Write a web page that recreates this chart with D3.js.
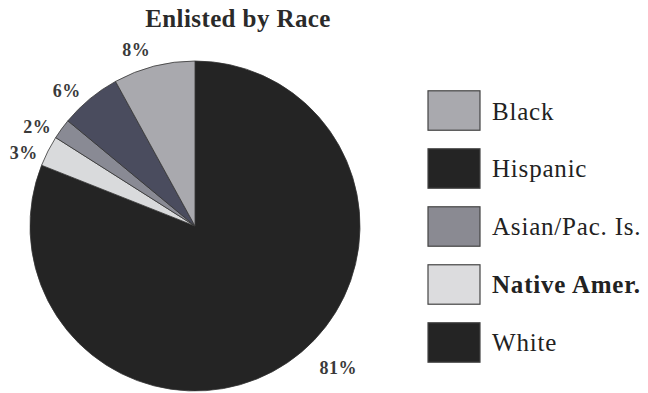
<!DOCTYPE html>
<html>
<head>
<meta charset="utf-8">
<script src="https://cdn.jsdelivr.net/npm/d3@7"></script>
<style>
  body { margin: 0; background: #ffffff; }
</style>
</head>
<body>
<svg id="chart" width="648" height="393"></svg>
<script>
// legend order
var races = ['Black', 'Hispanic', 'Asian/Pac. Is.', 'Native Amer.', 'White'];
var shares = [8, 6, 2, 3, 81];
var sliceColors = ['#a9a9ae', '#4a4c5e', '#898a94', '#d9dadc', '#242424'];
var swatchColors = ['#a9a9ae', '#242424', '#8a8a92', '#dcdcde', '#242424'];

var svg = d3.select('#chart');
var centerX = 195;
var centerY = 226;
var radius = 165;
var labelR = 186;
var labelShift = -4 * Math.PI / 180;

svg.append('text')
  .attr('x', 238)
  .attr('y', 27)
  .style('text-anchor', 'middle')
  .style('font-family', 'Liberation Serif, serif')
  .style('font-size', '25px')
  .style('letter-spacing', '0.4px')
  .style('font-weight', 'bold')
  .style('fill', '#2a2a2a')
  .text('Enlisted by Race');

var rows = races.map(function(r, i) {
  return { race: r, value: shares[i], color: sliceColors[i], swatch: swatchColors[i] };
});

// draw clockwise from 12 o'clock: White first, Black last
var pie = d3.pie()
  .sort(null)
  .value(function(d) { return d.value; });

var arcs = pie(rows.slice().reverse());

var arc = d3.arc().innerRadius(0).outerRadius(radius);

var g = svg.append('g')
  .attr('transform', 'translate(' + centerX + ',' + centerY + ')');

g.selectAll('.slice')
  .data(arcs)
  .enter()
  .append('path')
  .attr('class', 'slice')
  .attr('d', arc)
  .style('fill', function(d) { return d.data.color; })
  .style('stroke', '#333333')
  .style('stroke-width', 0.8);

g.selectAll('.slice-label')
  .data(arcs)
  .enter()
  .append('text')
  .attr('class', 'slice-label')
  .attr('transform', function(d) {
    var a = (d.startAngle + d.endAngle) / 2 + labelShift;
    var r = labelR;
    // the big slice's label sits further out, nearer the bottom
    if (d.data.value > 50) {
      a -= 7 * Math.PI / 180;
      r += 16;
    }
    var x = Math.sin(a) * r;
    var y = -Math.cos(a) * r;
    return 'translate(' + x + ',' + (y + 6) + ')';
  })
  .style('text-anchor', 'middle')
  .style('font-family', 'Liberation Serif, serif')
  .style('font-size', '18px')
  .style('letter-spacing', '0.5px')
  .style('font-weight', 'bold')
  .style('fill', '#3a3a3a')
  .text(function(d) { return d.data.value + '%'; });

var y = d3.scaleBand()
  .domain(races)
  .range([85, 368])
  .paddingInner(0.32)
  .paddingOuter(0.1);

var legend = svg.selectAll('.legend-item')
  .data(rows)
  .enter()
  .append('g')
  .attr('class', 'legend-item')
  .attr('transform', function(d) { return 'translate(428,' + y(d.race) + ')'; });

legend.append('rect')
  .attr('width', 52)
  .attr('height', y.bandwidth())
  .style('fill', function(d) { return d.swatch; })
  .style('stroke', '#444444')
  .style('stroke-width', 1.2);

legend.append('text')
  .attr('x', 64)
  .attr('y', y.bandwidth() / 2 + 9)
  .style('font-family', 'Liberation Serif, serif')
  .style('font-size', '25px')
  .style('letter-spacing', '0.8px')
  .style('font-weight', function(d) { return d.race === 'Native Amer.' ? 'bold' : 'normal'; })
  .style('fill', '#222222')
  .text(function(d) { return d.race; });
</script>
</body>
</html>
